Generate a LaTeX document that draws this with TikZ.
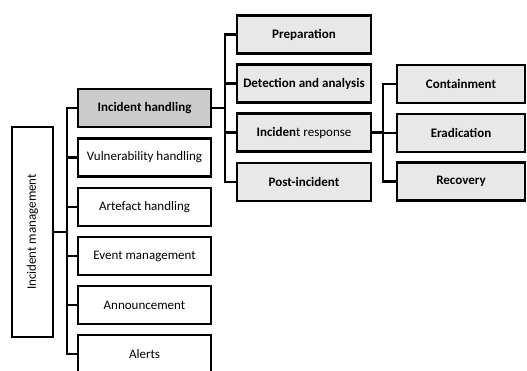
\documentclass[tikz,border=0pt]{standalone}
\usepackage{fontspec}
\setmainfont{Carlito}
\usepackage{tikz}
\usetikzlibrary{positioning}
\definecolor{imdark}{RGB}{204,204,204}
\definecolor{imlight}{RGB}{232,232,232}
\newcommand{\imsize}{\fontsize{13}{15}\selectfont}
\tikzset{
  rootnode/.style={rectangle,draw=black,line width=2.2pt,fill=white,minimum width=41pt,minimum height=210pt,inner sep=1pt},
  areanode/.style={rectangle,draw=black,line width=2.2pt,fill=white,minimum width=133pt,minimum height=38pt,inner sep=1pt},
  phasenode/.style={areanode,fill=imlight,minimum width=134pt,font=\imsize\bfseries},
  respnode/.style={areanode,fill=imlight,minimum width=128pt,font=\imsize\bfseries},
  linkline/.style={line width=2.2pt,draw=black}
}

\begin{document}
\begin{tikzpicture}[x=1pt,y=-1pt,font=\imsize]
  \useasboundingbox (0,0) rectangle (527,371);
  \node[rootnode] (im) at (32.5,232) {\rotatebox{90}{Incident management}};
  \node[areanode,fill=imdark,font=\imsize\bfseries] (ih) at (144.5,108) {Incident handling};
  \node[areanode] (vh) at (144.5,157.5) {Vulnerability handling};
  \node[areanode] (ah) at (144.5,207) {Artefact handling};
  \node[areanode] (em) at (144.5,256) {Event management};
  \node[areanode] (an) at (144.5,305) {Announcement};
  \node[areanode] (al) at (144.5,354) {Alerts};
  \node[phasenode] (prep) at (304,34.5) {Preparation};
  \node[phasenode] (det) at (304,83.5) {Detection and analysis};
  \node[phasenode] (resp) at (304,132.5) {Inciden{\mdseries t response}};
  \node[phasenode] (post) at (304,182) {Post-incident};
  \node[respnode] (cont) at (461,84) {Containment};
  \node[respnode] (erad) at (461,133) {Eradication};
  \node[respnode] (recov) at (461,181.5) {Recovery};
  % junction points
  \coordinate (imjoin) at (67,232);
  \coordinate (ihjoin) at (225,108);
  \coordinate (respjoin) at (383,132.5);
  \draw[linkline] (im.east) -- (imjoin);
  \draw[linkline] (imjoin) |- (ih.west);
  \draw[linkline] (imjoin) |- (vh.west);
  \draw[linkline] (imjoin) |- (ah.west);
  \draw[linkline] (imjoin) |- (em.west);
  \draw[linkline] (imjoin) |- (an.west);
  \draw[linkline] (imjoin) |- (al.west);
  \draw[linkline] (ih.east) -- (ihjoin);
  \draw[linkline] (ihjoin) |- (prep.west);
  \draw[linkline] (ihjoin) |- (det.west);
  \draw[linkline] (ihjoin) |- (resp.west);
  \draw[linkline] (ihjoin) |- (post.west);
  \draw[linkline] (resp.east) -- (respjoin);
  \draw[linkline] (respjoin) |- (cont.west);
  \draw[linkline] (respjoin) |- (erad.west);
  \draw[linkline] (respjoin) |- (recov.west);
\end{tikzpicture}
\end{document}
